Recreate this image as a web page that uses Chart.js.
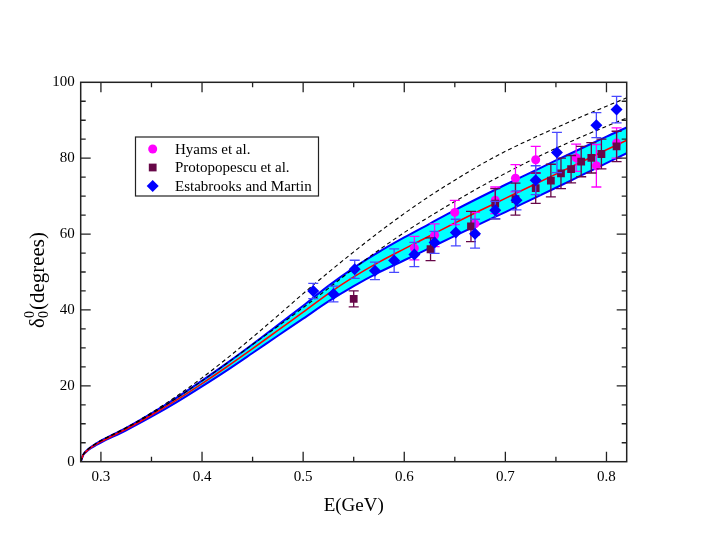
<!DOCTYPE html>
<html>
<head>
<meta charset="utf-8">
<script src="https://cdn.jsdelivr.net/npm/chart.js@4.4.1/dist/chart.umd.min.js"></script>
<style>
  html, body { margin: 0; padding: 0; background: #fff; }
  .wrap { width: 705px; height: 545px; position: relative; }
</style>
</head>
<body>
<div class="wrap"><canvas id="chart"></canvas></div>
<script>
// theory curves
const curveE      = [0.28, 0.2825, 0.285, 0.29, 0.295, 0.30, 0.325, 0.35, 0.375, 0.40, 0.425, 0.45, 0.475, 0.50, 0.525, 0.55, 0.575, 0.60, 0.625, 0.65, 0.675, 0.70, 0.725, 0.75, 0.775, 0.80, 0.82];
const centralLine = [0, 1.8, 2.6, 3.7, 4.55, 5.3, 8.6, 12.3, 16.3, 20.6, 25.1, 29.8, 34.6, 39.4, 44.3, 48.7, 52.6, 56.1, 59.5, 62.9, 66.2, 69.4, 72.6, 75.8, 79.0, 82.2, 84.7];
const bandUpper   = [0, 1.85, 2.7, 3.85, 4.75, 5.55, 8.93, 12.75, 16.9, 21.35, 26.05, 30.95, 36.0, 41.1, 46.35, 51.1, 55.3, 59.1, 62.7, 66.3, 69.7, 73.0, 76.2, 79.4, 82.55, 85.7, 88.1];
const bandLower   = [0, 1.75, 2.5, 3.55, 4.35, 5.05, 8.27, 11.85, 15.7, 19.85, 24.15, 28.65, 33.2, 37.7, 42.25, 46.3, 49.9, 53.1, 56.3, 59.5, 62.7, 65.8, 69.0, 72.2, 75.45, 78.7, 81.3];
const dashedUpper = [0, 1.9, 2.75, 3.9, 4.8, 5.6, 9.0, 12.9, 17.3, 22.1, 27.3, 32.8, 38.5, 44.3, 49.9, 55.3, 60.5, 65.4, 70.0, 74.2, 78.2, 81.8, 85.0, 88.0, 90.9, 93.7, 95.9];
const dashedLower = [0, 1.85, 2.7, 3.85, 4.75, 5.5, 8.85, 12.6, 16.8, 21.3, 26.0, 30.9, 35.7, 40.6, 45.7, 50.9, 55.8, 60.4, 64.6, 68.6, 72.4, 76.0, 79.4, 82.6, 85.6, 88.4, 90.6];

// Hyams et al.
const hyamsE   = [0.610, 0.630, 0.650, 0.670, 0.690, 0.710, 0.730, 0.770, 0.790, 0.810];
const hyamsD   = [56.3, 59.7, 65.7, 62.7, 68.9, 74.7, 79.6, 80.1, 78.0, 84.0];
const hyamsErr = [3.1, 3.0, 3.2, 3.0, 3.5, 3.6, 3.5, 3.6, 5.6, 4.0];

// Protopopescu et al.
const protoE   = [0.550, 0.626, 0.666, 0.690, 0.710, 0.730, 0.745, 0.755, 0.765, 0.775, 0.785, 0.795, 0.810];
const protoD   = [42.9, 56.0, 62.0, 68.0, 69.2, 72.1, 74.1, 76.0, 77.1, 79.1, 80.1, 81.1, 83.1];
const protoErr = [2.1, 3.0, 4.0, 4.0, 4.2, 4.0, 4.3, 4.0, 3.6, 4.0, 4.0, 3.9, 4.0];

// Estabrooks and Martin
const estE   = [0.510, 0.530, 0.551, 0.571, 0.590, 0.610, 0.630, 0.651, 0.670, 0.690, 0.711, 0.730, 0.751, 0.790, 0.810];
const estD   = [45.0, 44.2, 50.7, 50.3, 53.0, 54.6, 57.8, 60.4, 60.1, 66.3, 68.9, 74.2, 81.5, 88.7, 92.8];
const estErr = [2.0, 2.1, 2.4, 2.3, 3.1, 3.2, 2.9, 3.5, 3.8, 2.3, 2.5, 3.8, 5.3, 3.3, 3.5];

const xTicks = [0.3, 0.4, 0.5, 0.6, 0.7, 0.8];
const yTicks = [0, 20, 40, 60, 80, 100];

const SERIF = "'Liberation Serif', 'Times New Roman', serif";

const pts = (xs, ys) => xs.map((x, i) => ({ x: x, y: ys[i] }));

// error bars, drawn just before each marker set
const errorBars = {
  id: "errorBars",
  beforeDatasetDraw(chart, args) {
    const ds = chart.data.datasets[args.index];
    if (!ds.errors) return;
    const ctx = chart.ctx, xs = chart.scales.x, ys = chart.scales.y;
    ctx.save();
    ctx.strokeStyle = ds.errorColor;
    ctx.lineWidth = 1.3;
    ds.data.forEach((p, i) => {
      const px = xs.getPixelForValue(p.x);
      const top = ys.getPixelForValue(p.y + ds.errors[i]);
      const bot = ys.getPixelForValue(p.y - ds.errors[i]);
      ctx.beginPath();
      ctx.moveTo(px, top); ctx.lineTo(px, bot);
      ctx.moveTo(px - 5, top); ctx.lineTo(px + 5, top);
      ctx.moveTo(px - 5, bot); ctx.lineTo(px + 5, bot);
      ctx.stroke();
    });
    ctx.restore();
  }
};

// frame, inward ticks, axis titles, legend box
const decorations = {
  id: "decorations",
  afterDraw(chart) {
    const ctx = chart.ctx, a = chart.chartArea;
    const xs = chart.scales.x, ys = chart.scales.y;
    ctx.save();
    ctx.strokeStyle = "#222";
    ctx.lineWidth = 1.5;
    ctx.strokeRect(a.left, a.top, a.right - a.left, a.bottom - a.top);

    ctx.lineWidth = 1.3;
    ctx.beginPath();
    for (let k = 6; k <= 16; k++) {
      const v = k * 0.05;
      const len = k % 2 === 0 ? 10 : 5;
      const px = xs.getPixelForValue(v);
      ctx.moveTo(px, a.bottom); ctx.lineTo(px, a.bottom - len);
      ctx.moveTo(px, a.top); ctx.lineTo(px, a.top + len);
    }
    for (let v = 5; v < 100; v += 5) {
      const len = v % 20 === 0 ? 10 : 5;
      const py = ys.getPixelForValue(v);
      ctx.moveTo(a.left, py); ctx.lineTo(a.left + len, py);
      ctx.moveTo(a.right, py); ctx.lineTo(a.right - len, py);
    }
    ctx.stroke();

    // x title
    ctx.fillStyle = "#000";
    ctx.textAlign = "center";
    ctx.textBaseline = "middle";
    ctx.font = "19px " + SERIF;
    ctx.fillText("E(GeV)", (a.left + a.right) / 2, 506);

    // y title with sub/superscript
    ctx.save();
    ctx.translate(37, 280);
    ctx.rotate(-Math.PI / 2);
    ctx.textAlign = "left";
    ctx.textBaseline = "alphabetic";
    ctx.font = "21px " + SERIF;
    const w1 = ctx.measureText("\u03b4").width;
    const w3 = ctx.measureText("(degrees)").width;
    ctx.font = "14px " + SERIF;
    const w2 = ctx.measureText("0").width + 1;
    let x0 = -(w1 + w2 + w3) / 2;
    const base = 7;
    ctx.font = "21px " + SERIF;
    ctx.fillText("\u03b4", x0, base);
    ctx.font = "14px " + SERIF;
    ctx.fillText("0", x0 + w1, base - 10);
    ctx.fillText("0", x0 + w1, base + 4);
    ctx.font = "21px " + SERIF;
    ctx.fillText("(degrees)", x0 + w1 + w2, base);
    ctx.restore();

    // legend
    ctx.lineWidth = 1.2;
    ctx.strokeStyle = "#222";
    ctx.strokeRect(135.5, 137, 183, 59);
    const rows = [149, 167.5, 186];
    ctx.font = "15px " + SERIF;
    ctx.textAlign = "left";
    ctx.textBaseline = "middle";
    chart.data.datasets.filter(d => d.errors).forEach((d, i) => {
      ctx.fillStyle = d.backgroundColor;
      Chart.helpers.drawPoint(ctx, { pointStyle: d.pointStyle, radius: d.pointRadius, rotation: 0, borderWidth: 0 }, 152.7, rows[i]);
      ctx.fillStyle = "#000";
      ctx.fillText(d.label, 175, rows[i] + 1);
    });
    ctx.restore();
  }
};

const lineDefaults = { showLine: true, pointRadius: 0, pointHoverRadius: 0, cubicInterpolationMode: "monotone", fill: false };

new Chart(document.getElementById("chart"), {
  type: "scatter",
  data: {
    datasets: [
      {
        label: "Hyams et al.", data: pts(hyamsE, hyamsD), errors: hyamsErr,
        errorColor: "#ff00ff", backgroundColor: "#ff00ff", borderWidth: 0,
        pointStyle: "circle", pointRadius: 4.5, order: 2,
      },
      {
        label: "Protopopescu et al.", data: pts(protoE, protoD), errors: protoErr,
        errorColor: "#670748", backgroundColor: "#670748", borderWidth: 0,
        pointStyle: "rect", pointRadius: 5.5, order: 1,
      },
      {
        label: "Estabrooks and Martin", data: pts(estE, estD), errors: estErr,
        errorColor: "#4848ff", backgroundColor: "#0000ff", borderWidth: 0,
        pointStyle: "rectRot", pointRadius: 6, order: 0,
      },
      Object.assign({ data: pts(curveE, dashedUpper), borderColor: "#000", borderWidth: 1.1, borderDash: [4, 3], order: 3 }, lineDefaults),
      Object.assign({ data: pts(curveE, dashedLower), borderColor: "#000", borderWidth: 1.1, borderDash: [4, 3], order: 3 }, lineDefaults),
      Object.assign({ data: pts(curveE, centralLine), borderColor: "#ff0000", borderWidth: 1.6, order: 4 }, lineDefaults),
      Object.assign({}, lineDefaults, { data: pts(curveE, bandUpper), borderColor: "#0000ff", borderWidth: 2, backgroundColor: "#00ffff", fill: "+1", order: 6 }),
      Object.assign({ data: pts(curveE, bandLower), borderColor: "#0000ff", borderWidth: 2, order: 5 }, lineDefaults),
    ],
  },
  options: {
    responsive: true,
    maintainAspectRatio: false,
    animation: false,
    layout: { padding: { top: 82.3, right: 78.3, left: 0, bottom: 0 } },
    plugins: {
      legend: { display: false },
      tooltip: { enabled: false },
    },
    scales: {
      x: {
        type: "linear", min: 0.28, max: 0.82,
        grid: { display: false, drawTicks: false }, border: { display: false },
        afterBuildTicks: (s) => { s.ticks = xTicks.map(v => ({ value: v })); },
        afterFit: (s) => { s.height = 83.3; },
        ticks: { color: "#000", padding: 6, font: { family: SERIF, size: 15 }, callback: (v) => v.toFixed(1) },
      },
      y: {
        type: "linear", min: 0, max: 100,
        grid: { display: false, drawTicks: false }, border: { display: false },
        afterBuildTicks: (s) => { s.ticks = yTicks.map(v => ({ value: v })); },
        afterFit: (s) => { s.width = 80.7; },
        ticks: { color: "#000", padding: 6, font: { family: SERIF, size: 15 } },
      },
    },
  },
  plugins: [errorBars, decorations],
});
</script>
</body>
</html>
